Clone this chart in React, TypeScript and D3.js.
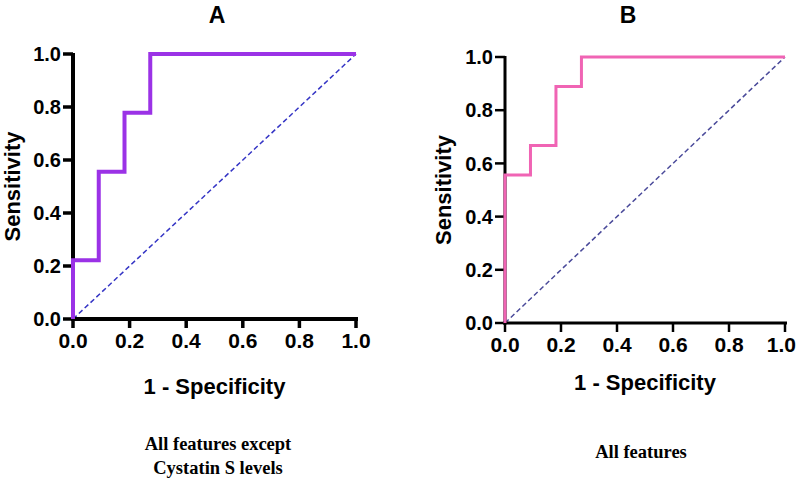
import React from "react";
import * as d3 from "d3";

const xTicks = [0, 0.2, 0.4, 0.6, 0.8, 1.0];
const yTicks = [0, 0.2, 0.4, 0.6, 0.8, 1.0];

// Panel A ROC (1 - specificity, sensitivity)
const rocAFpr = [0, 0, 0.091, 0.091, 0.182, 0.182, 0.273, 0.273, 1.0];
const rocATpr = [0, 0.222, 0.222, 0.556, 0.556, 0.778, 0.778, 1.0, 1.0];

// Panel B ROC
const rocBFpr = [0, 0, 0.091, 0.091, 0.182, 0.182, 0.273, 0.273, 1.0];
const rocBTpr = [0, 0.556, 0.556, 0.667, 0.667, 0.889, 0.889, 1.0, 1.0];

const titles = ["A", "B"];
const captionsA = ["All features except", "Cystatin S levels"];
const captionsB = ["All features"];

type PanelProps = {
  title: string;
  fpr: number[];
  tpr: number[];
  x0: number;
  x1: number;
  y0: number;
  y1: number;
  axisW: number;
  lineW: number;
  lineColor: string;
  diagColor: string;
  titleX: number;
  ylabX: number;
  xlabY: number;
  captions: string[];
  capY: number;
  capX: number;
};

const sans = "'Liberation Sans', Arial, sans-serif";
const serif = "'Liberation Serif', 'Times New Roman', serif";
const W = 797;
const H = 478;

function Panel(p: PanelProps) {
  const x = d3.scaleLinear().domain([0, 1]).range([p.x0, p.x1]);
  const y = d3.scaleLinear().domain([0, 1]).range([p.y0, p.y1]);
  const pts: [number, number][] = p.fpr.map((f, i) => [f, p.tpr[i]]);
  const line = d3
    .line<[number, number]>()
    .x((d) => x(d[0]))
    .y((d) => y(d[1]));
  const midX = (p.x0 + p.x1) / 2;
  const midY = (p.y0 + p.y1) / 2;
  const tickFs = 21;
  const halfLabel = (1.39 * tickFs) / 2;
  return (
    <g>
      <text x={p.titleX} y={23} textAnchor="middle" fontFamily={sans} fontWeight="bold" fontSize={23}>
        {p.title}
      </text>
      {/* diagonal */}
      <line
        x1={x(0)}
        y1={y(0)}
        x2={x(1)}
        y2={y(1)}
        stroke={p.diagColor}
        strokeWidth={1.5}
        strokeDasharray="5,3"
      />
      {/* y axis */}
      <line x1={x(0)} x2={x(0)} y1={y(0) + p.axisW / 2} y2={y(1) - 1} stroke="#000" strokeWidth={p.axisW} />
      {yTicks.map((t) => (
        <g key={"y" + t}>
          <line x1={x(0) - 10} x2={x(0)} y1={y(t)} y2={y(t)} stroke="#000" strokeWidth={p.axisW - 0.5} />
          <text
            x={x(0) - 12}
            y={y(t)}
            dy="0.36em"
            textAnchor="end"
            fontFamily={sans}
            fontWeight="bold"
            fontSize={20}
          >
            {t.toFixed(1)}
          </text>
        </g>
      ))}
      {/* x axis */}
      <line x1={x(0) - 2} x2={x(1) + 2} y1={y(0)} y2={y(0)} stroke="#000" strokeWidth={p.axisW} />
      {xTicks.map((t) => (
        <g key={"x" + t}>
          <line x1={x(t)} x2={x(t)} y1={y(0)} y2={y(0) + 9} stroke="#000" strokeWidth={p.axisW - 0.5} />
          <text
            x={Math.min(x(t), W - 1 - halfLabel)}
            y={y(0) + 21}
            dy="0.36em"
            textAnchor="middle"
            fontFamily={sans}
            fontWeight="bold"
            fontSize={tickFs}
          >
            {t.toFixed(1)}
          </text>
        </g>
      ))}
      {/* ROC */}
      <path d={line(pts) || ""} fill="none" stroke={p.lineColor} strokeWidth={p.lineW} strokeLinejoin="miter" />
      {/* axis labels */}
      <text
        transform={`translate(${p.ylabX},${midY}) rotate(-90)`}
        textAnchor="middle"
        dy="0.36em"
        fontFamily={sans}
        fontWeight="bold"
        fontSize={22}
      >
        Sensitivity
      </text>
      <text x={midX} y={p.xlabY} dy="0.36em" textAnchor="middle" fontFamily={sans} fontWeight="bold" fontSize={22}>
        1 - Specificity
      </text>
      {p.captions.map((c, i) => (
        <text
          key={c}
          x={p.capX}
          y={p.capY + i * 24}
          dy="0.36em"
          textAnchor="middle"
          fontFamily={serif}
          fontWeight="bold"
          fontSize={18.5}
        >
          {c}
        </text>
      ))}
    </g>
  );
}

export default function App() {
  return (
    <svg
      width={W}
      height={H}
      style={{ position: "absolute", left: 0, top: 0, background: "#fff" }}
    >
      <rect width={W} height={H} fill="#fff" />
      <Panel
        title={titles[0]}
        fpr={rocAFpr}
        tpr={rocATpr}
        x0={73}
        x1={356}
        y0={319}
        y1={54}
        axisW={4}
        lineW={4}
        lineColor="#9B32E6"
        diagColor="#3535C5"
        titleX={217}
        ylabX={12}
        xlabY={386}
        captions={captionsA}
        capY={443}
        capX={218}
      />
      <Panel
        title={titles[1]}
        fpr={rocBFpr}
        tpr={rocBTpr}
        x0={505}
        x1={785}
        y0={323}
        y1={57}
        axisW={3}
        lineW={3}
        lineColor="#F064B4"
        diagColor="#4A4A9A"
        titleX={628}
        ylabX={443}
        xlabY={382}
        captions={captionsB}
        capY={451}
        capX={641}
      />
    </svg>
  );
}
